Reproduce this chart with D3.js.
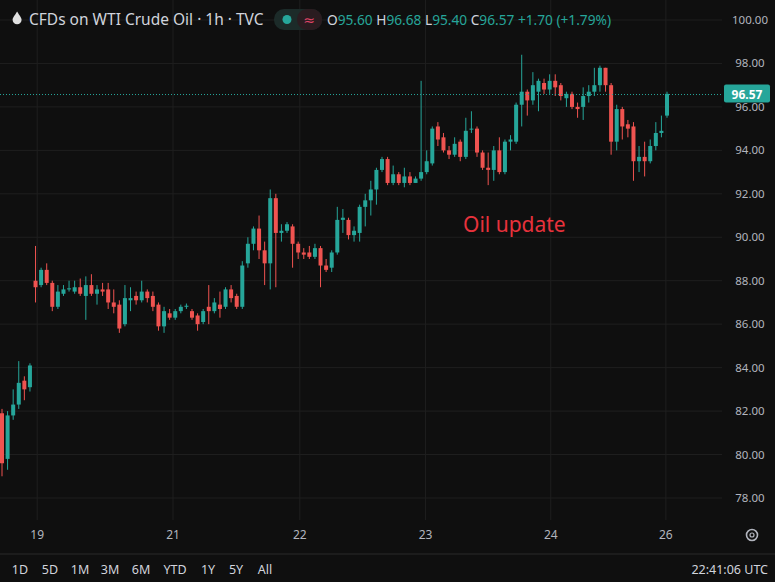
<!DOCTYPE html>
<html>
<head>
<script src="https://d3js.org/d3.v7.min.js"></script>
<style>
  body { margin: 0; background: #0f0f0f; }
  svg { display: block; font-family: "Noto Sans", "DejaVu Sans", sans-serif; }
</style>
</head>
<body>
<svg id="chart" width="775" height="582"></svg>
<script>
// hourly candles
var opens  = [81.9,79.8,81.8,82.3,83.4,83.1,88.0,87.8,88.5,87.9,86.8,87.4,87.6,87.5,87.7,87.3,87.8,87.4,87.6,87.6,
              87.0,86.9,86.0,87.1,87.3,87.1,87.5,87.3,86.9,85.9,86.5,86.3,86.6,86.8,86.6,86.4,86.1,86.8,86.6,86.9,
              86.8,87.6,87.3,86.8,88.8,89.7,90.4,89.4,88.8,91.8,90.2,90.3,90.5,89.7,89.3,89.3,89.1,89.5,88.7,88.6,
              89.3,90.8,90.8,90.1,90.2,91.4,91.7,92.2,93.1,93.6,92.5,92.9,92.5,92.8,92.5,92.7,93.0,93.4,95.1,94.6,
              94.0,93.8,94.4,93.7,95.0,95.0,93.9,93.2,93.1,94.0,93.0,94.4,94.4,96.1,96.7,96.3,96.7,97.1,96.8,97.2,
              97.0,96.4,96.6,96.0,96.0,96.5,96.7,97.0,97.8,97.0,94.4,95.9,95.2,95.1,93.5,93.7,93.5,94.2,94.8,95.6];
var highs  = [82.1,82.0,83.0,84.3,83.6,84.2,89.6,88.6,88.8,88.0,87.8,87.8,88.0,88.0,88.1,88.2,88.3,87.8,87.9,87.9,
              87.6,87.1,87.8,87.7,87.5,88.0,87.6,87.5,87.0,86.8,86.7,86.7,86.9,86.95,86.7,86.5,86.7,87.8,87.2,87.5,
              87.7,87.8,87.4,88.9,90.0,90.5,91.0,89.8,92.2,92.0,90.6,90.7,90.6,89.8,89.5,89.6,89.7,89.6,89.0,89.4,
              91.4,91.3,90.9,90.5,91.5,92.0,92.6,93.2,93.7,93.7,93.3,93.0,93.2,93.0,92.8,97.2,94.0,95.1,95.3,94.8,
              94.2,94.6,94.5,95.5,95.8,95.1,94.0,93.9,94.2,94.6,94.5,94.7,96.2,98.4,96.8,97.6,97.3,97.3,97.5,97.5,
              97.1,96.7,96.7,96.2,96.9,97.0,97.8,97.9,97.8,97.1,96.1,96.0,95.4,95.3,94.2,94.4,94.5,95.3,95.6,96.7];
var lows   = [79.0,79.3,81.6,82.1,82.5,82.9,87.0,87.7,87.8,86.6,86.7,87.3,87.5,87.4,87.3,86.2,87.3,86.9,87.3,86.7,
              86.5,85.6,85.9,86.6,86.9,87.0,87.0,86.6,85.7,85.6,86.2,86.2,86.5,86.7,86.2,85.7,86.0,86.0,86.5,86.3,
              86.7,87.0,86.7,86.7,88.6,89.4,89.0,87.8,87.6,87.7,89.8,90.2,88.6,89.0,89.0,89.0,89.0,87.7,88.4,88.4,
              89.2,90.2,89.9,89.8,89.8,90.5,91.0,91.5,93.0,92.4,92.4,92.4,92.3,92.4,92.5,92.6,92.9,93.3,94.2,93.9,
              93.6,93.7,93.5,93.6,94.8,93.7,93.1,92.4,92.6,92.9,92.9,94.0,94.3,95.1,95.6,96.1,95.8,96.6,96.6,96.5,
              96.3,96.0,95.9,95.5,95.4,96.2,96.5,96.7,96.7,93.8,94.0,94.5,94.6,92.6,93.0,92.8,93.4,94.0,94.6,95.5];
var closes = [79.6,81.8,82.3,83.3,83.0,84.1,87.7,88.5,87.9,86.8,87.5,87.6,87.65,87.7,87.4,87.8,87.4,87.6,87.5,87.0,
              86.8,85.8,87.2,87.2,87.1,87.5,87.2,86.8,85.9,86.6,86.3,86.6,86.8,86.85,86.3,86.0,86.6,86.6,87.0,86.7,
              87.6,87.2,86.8,88.7,89.7,90.4,89.4,88.8,91.8,90.2,90.3,90.6,89.7,89.3,89.2,89.1,89.5,88.7,88.5,89.3,
              90.8,90.9,90.1,90.3,91.4,91.7,92.2,93.1,93.6,92.5,92.9,92.5,92.8,92.5,92.7,93.0,93.5,95.0,94.5,94.0,
              93.8,94.3,93.7,94.9,95.0,93.9,93.2,93.1,94.0,93.0,94.4,94.5,96.1,96.7,96.3,97.0,97.2,96.8,97.2,96.9,
              96.5,96.6,96.0,95.9,96.5,96.7,97.0,97.8,97.0,94.4,95.9,95.1,95.0,93.5,93.7,93.5,94.2,94.8,94.9,96.6];

var priceTicks = [78, 80, 82, 84, 86, 88, 90, 92, 94, 96, 98, 100];
var dayLabels = ["19", "21", "22", "23", "24", "26"];
var dayIndex  = [6.3, 30.6, 53.3, 75.8, 98.2, 118.8];
var lastPrice = 96.57;
var ranges = ["1D", "5D", "1M", "3M", "6M", "YTD", "1Y", "5Y", "All"];

var up = "#26a69a", down = "#ef5350";
var svg = d3.select("#chart");
svg.append("rect").attr("width", 775).attr("height", 582).attr("fill", "#0f0f0f");

var x = d3.scaleLinear().domain([0, closes.length - 1]).range([2, 667]);
var y = d3.scaleLinear().domain([78, 100]).range([498, 20]);

// grid
svg.append("g").selectAll("line").data(priceTicks).join("line")
  .attr("x1", 0).attr("x2", 722).attr("y1", function(d) { return y(d); }).attr("y2", function(d) { return y(d); })
  .attr("stroke", "#1f1f1f");
svg.append("g").selectAll("line").data(dayIndex).join("line")
  .attr("x1", function(d) { return x(d); }).attr("x2", function(d) { return x(d); })
  .attr("y1", 0).attr("y2", 520).attr("stroke", "#1f1f1f");

// price axis labels
svg.append("g").selectAll("text").data(priceTicks).join("text")
  .attr("x", 750).attr("y", function(d) { return y(d) + 4; })
  .attr("text-anchor", "middle").attr("font-size", 11.5).attr("fill", "#b2b5be")
  .text(function(d) { return d.toFixed(2); });

// day labels
svg.append("g").selectAll("text").data(dayLabels).join("text")
  .attr("x", function(d, i) { return x(dayIndex[i]); }).attr("y", 539)
  .attr("text-anchor", "middle").attr("font-size", 12).attr("fill", "#b2b5be")
  .text(function(d) { return d; });

// candles
var idx = d3.range(closes.length);
var g = svg.append("g");
g.selectAll("line").data(idx).join("line")
  .attr("x1", function(i) { return x(i); }).attr("x2", function(i) { return x(i); })
  .attr("y1", function(i) { return y(highs[i]); }).attr("y2", function(i) { return y(lows[i]); })
  .attr("stroke", function(i) { return closes[i] >= opens[i] ? up : down; }).attr("stroke-width", 1);
g.selectAll("rect").data(idx).join("rect")
  .attr("x", function(i) { return x(i) - 2; }).attr("width", 4)
  .attr("y", function(i) { return y(Math.max(opens[i], closes[i])); })
  .attr("height", function(i) { return Math.max(1, Math.abs(y(opens[i]) - y(closes[i]))); })
  .attr("fill", function(i) { return closes[i] >= opens[i] ? up : down; });

// last price line + label
svg.append("line").attr("x1", 0).attr("x2", 722).attr("y1", y(lastPrice)).attr("y2", y(lastPrice))
  .attr("stroke", up).attr("stroke-dasharray", "1,2");
svg.append("rect").attr("x", 724).attr("y", y(lastPrice) - 10).attr("width", 46).attr("height", 18)
  .attr("rx", 2).attr("fill", up);
svg.append("text").attr("x", 747).attr("y", y(lastPrice) + 4).attr("text-anchor", "middle")
  .attr("font-size", 12).attr("font-weight", "bold").attr("fill", "#ffffff").text(lastPrice.toFixed(2));

// annotation
svg.append("text").attr("x", 463).attr("y", 232).attr("font-size", 21).attr("fill", "#e8323c").text("Oil update");

// legend
svg.append("path").attr("d", "M17,12 C14,17 12,19 12,21 A5,5 0 0 0 22,21 C22,19 20,17 17,12 Z")
  .attr("fill", "#e0e0e0").attr("transform", "translate(0,-1) scale(0.9) translate(2,2)");
svg.append("text").attr("x", 29).attr("y", 25).attr("font-size", 15.5).attr("fill", "#d1d4dc")
  .text("CFDs on WTI Crude Oil · 1h · TVC");
svg.append("rect").attr("x", 274).attr("y", 9).attr("width", 48).attr("height", 21).attr("rx", 10).attr("fill", "#1c2b29");
svg.append("rect").attr("x", 297).attr("y", 9).attr("width", 25).attr("height", 21).attr("rx", 10).attr("fill", "#2a1c20");
svg.append("circle").attr("cx", 287).attr("cy", 19.5).attr("r", 4.5).attr("fill", up);
svg.append("text").attr("x", 309).attr("y", 25).attr("text-anchor", "middle").attr("font-size", 14).attr("fill", "#e04468").text("≈");
var leg = svg.append("text").attr("x", 327).attr("y", 25).attr("font-size", 13.7);
[["O", "95.60 "], ["H", "96.68 "], ["L", "95.40 "], ["C", "96.57 "], ["", "+1.70 (+1.79%)"]].forEach(function(p) {
  leg.append("tspan").attr("fill", "#d1d4dc").text(p[0]);
  leg.append("tspan").attr("fill", up).text(p[1]);
});

// settings gear
svg.append("circle").attr("cx", 752).attr("cy", 535).attr("r", 5.5).attr("fill", "none").attr("stroke", "#b2b5be").attr("stroke-width", 1.6);
svg.append("circle").attr("cx", 752).attr("cy", 535).attr("r", 2).attr("fill", "none").attr("stroke", "#b2b5be").attr("stroke-width", 1.2);

// bottom toolbar
svg.append("line").attr("x1", 0).attr("x2", 775).attr("y1", 554).attr("y2", 554).attr("stroke", "#2a2a2a");
var rx = [20, 50, 80, 110, 141, 175, 208, 236, 265];
svg.append("g").selectAll("text").data(ranges).join("text")
  .attr("x", function(d, i) { return rx[i]; }).attr("y", 574).attr("text-anchor", "middle")
  .attr("font-size", 12.5).attr("fill", "#d1d4dc").text(function(d) { return d; });
svg.append("text").attr("x", 768).attr("y", 574).attr("text-anchor", "end").attr("font-size", 12.5)
  .attr("fill", "#d1d4dc").text("22:41:06 UTC");
</script>
</body>
</html>
